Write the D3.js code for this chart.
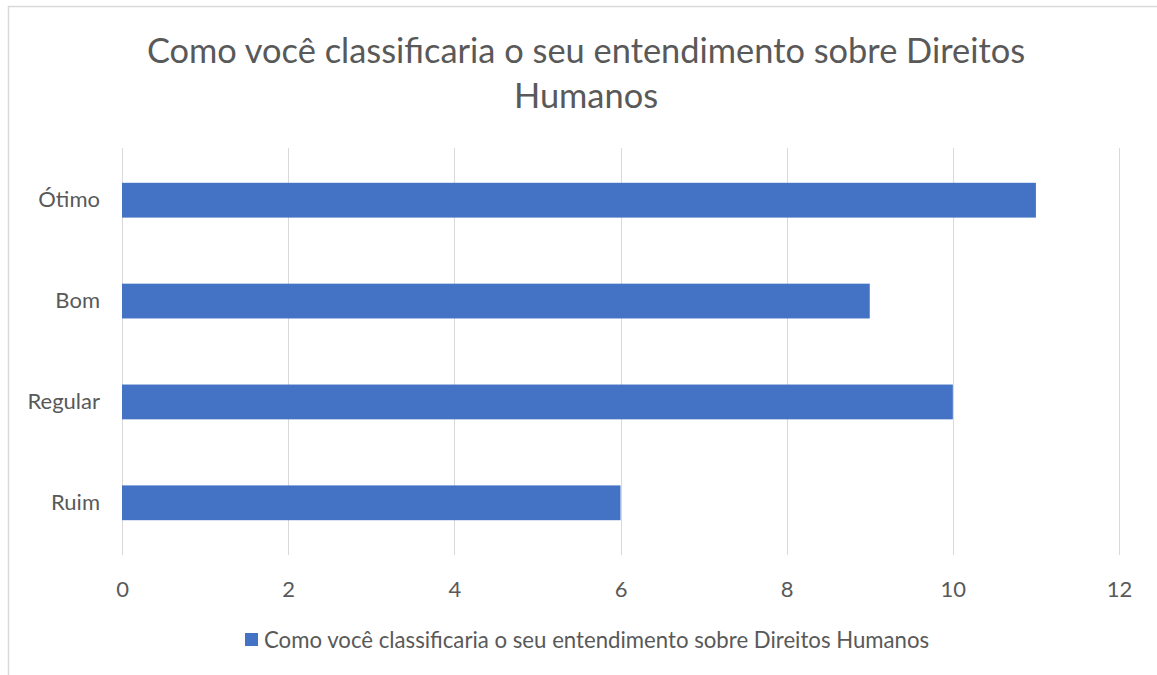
<!DOCTYPE html>
<html>
<head>
<meta charset="utf-8">
<script src="https://cdn.jsdelivr.net/npm/d3@7"></script>
<style>
  body { margin: 0; background: #fff; }
  text { font-family: Lato, "Open Sans", sans-serif; fill: #595959; }
</style>
</head>
<body>
<div id="chart"></div>
<script>
// data
var categories = ["Ótimo", "Bom", "Regular", "Ruim"];
var values = [11, 9, 10, 6];
var xTicks = [0, 2, 4, 6, 8, 10, 12];
var seriesName = "Como você classificaria o seu entendimento sobre Direitos Humanos";
var titleLines = ["Como você classificaria o seu entendimento sobre Direitos", "Humanos"];

var W = 1157, H = 675;
var margin = {top: 148, right: 38, bottom: 120, left: 122},
    width = W - margin.left - margin.right,
    height = H - margin.top - margin.bottom;

var svg = d3.select("#chart")
  .append("svg")
    .attr("width", W)
    .attr("height", H);

// chart border (runs off the right and bottom edges)
svg.append("rect")
  .attr("x", 8.5).attr("y", 6.5)
  .attr("width", W + 20).attr("height", H + 20)
  .attr("fill", "none")
  .attr("stroke", "#d9d9d9")
  .attr("stroke-width", 1.5);

var g = svg.append("g")
  .attr("transform", "translate(" + margin.left + "," + margin.top + ")");

var x = d3.scaleLinear().domain([0, 12]).range([0, width]);
var y = d3.scaleBand().domain(categories).range([0, height]).paddingInner(0.655).paddingOuter(0.345);

// gridlines
g.selectAll(".grid")
  .data(xTicks)
  .enter().append("line")
    .attr("x1", function(d) { return Math.round(x(d)) + 0.5; })
    .attr("x2", function(d) { return Math.round(x(d)) + 0.5; })
    .attr("y1", 0)
    .attr("y2", height)
    .attr("stroke", "#d9d9d9")
    .attr("stroke-width", 1);

// bars
g.selectAll(".bar")
  .data(values)
  .enter().append("rect")
    .attr("x", x(0))
    .attr("y", function(d, i) { return y(categories[i]); })
    .attr("width", function(d) { return x(d) - x(0); })
    .attr("height", y.bandwidth())
    .attr("fill", "#4472c4");

// x axis
var xAxis = g.append("g")
  .attr("transform", "translate(0," + height + ")")
  .call(d3.axisBottom(x).tickValues(xTicks).tickSize(0).tickPadding(26));
xAxis.select(".domain").remove();
xAxis.selectAll("text").style("font-size", "22px").attr("fill", "#595959");

// y axis
var yAxis = g.append("g")
  .call(d3.axisLeft(y).tickSize(0).tickPadding(22));
yAxis.select(".domain").remove();
yAxis.selectAll("text").style("font-size", "22px").attr("fill", "#595959");

// title
svg.selectAll(".title")
  .data(titleLines)
  .enter().append("text")
    .attr("x", 586)
    .attr("y", function(d, i) { return 63 + i * 45; })
    .attr("text-anchor", "middle")
    .style("font-size", "34.4px")
    .text(function(d) { return d; });

// legend
var legend = svg.append("g").attr("transform", "translate(245,633)");
legend.append("rect")
  .attr("width", 13).attr("height", 13)
  .attr("fill", "#4472c4");
legend.append("text")
  .attr("x", 19).attr("y", 15)
  .style("font-size", "22.2px")
  .text(seriesName);
</script>
</body>
</html>
